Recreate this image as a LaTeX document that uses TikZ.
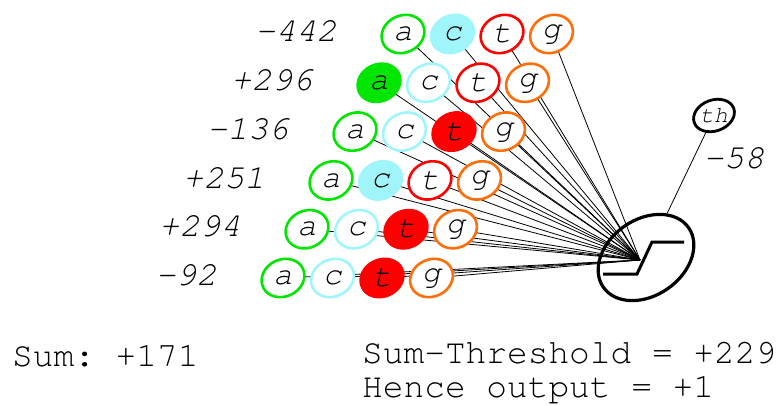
\documentclass[tikz,border=0pt]{standalone}
\usepackage[T1]{fontenc}
\usepackage{courier}
\usetikzlibrary{shapes.geometric,backgrounds}
\frenchspacing
\definecolor{cA}{RGB}{0,230,0}
\definecolor{cC}{RGB}{160,245,250}
\definecolor{cT}{RGB}{255,0,0}
\definecolor{cG}{RGB}{255,110,10}
\tikzset{
 base/.style={ellipse, minimum width=44pt, minimum height=37pt, inner sep=0pt, rotate=25, line width=2.6pt},
 openell/.style={base, draw=#1, fill=white},
 fullell/.style={base, draw=#1, fill=#1},
 letter/.style={font=\fontsize{32}{32}\selectfont\ttfamily\itshape, inner sep=0pt},
 weight/.style={font=\fontsize{34}{34}\selectfont\ttfamily\itshape, anchor=east, inner sep=0pt},
 wire/.style={line width=0.8pt},
 bottomtext/.style={font=\fontsize{34.5}{34.5}\selectfont\ttfamily, anchor=base west, inner sep=0pt}
}
\begin{document}
\begin{tikzpicture}[x=1pt,y=-1pt]
\useasboundingbox (0,0) rectangle (779,405);
\coordinate (conv) at (640,260);
\foreach \i/\w/\fl in {0/-442/1, 1/+296/0, 2/-136/2, 3/+251/1, 4/+294/2, 5/-92/2} {
  \pgfmathsetmacro\ax{403-24*\i}
  \pgfmathsetmacro\yy{34+48.8*\i}
  \node[weight] (w\i) at (\ax-66,\yy-3) {\w};
  \foreach \j/\l/\c in {0/a/cA,1/c/cC,2/t/cT,3/g/cG} {
     \pgfmathsetmacro\xx{\ax+49.5*\j}
     \ifnum\j=\fl
       \node[fullell=\c] (e\i\j) at (\xx,\yy) {};
     \else
       \node[openell=\c] (e\i\j) at (\xx,\yy) {};
     \fi
     \node[letter] (l\i\j) at (e\i\j.center) {\l};
     \begin{scope}[on background layer]
       \draw[wire] (e\i\j.center) -- (conv);
     \end{scope}
  }
}
\node[ellipse, draw, line width=3.2pt, minimum width=104pt, minimum height=76pt, rotate=35, inner sep=0pt] (out) at (646,257.5) {};
\draw[line width=3pt] (603,274) -- (637,274) -- (652,242) -- (684,242);
\node[ellipse, draw, line width=2.8pt, minimum width=42pt, minimum height=31pt, rotate=20, inner sep=0pt] (th) at (714,115.5) {};
\node[font=\fontsize{23}{23}\selectfont\ttfamily\itshape, inner sep=0pt] (thl) at (th.center) {th};
\draw[wire] (th) -- (out);
\node[weight, anchor=center] (tw) at (734,158) {-58};
\node[bottomtext] (sum) at (12,366) {Sum: +171};
\node[bottomtext] (st) at (362,363) {Sum-Threshold = +229};
\node[bottomtext] (ho) at (362,397) {Hence output = +1};
\end{tikzpicture}
\end{document}
